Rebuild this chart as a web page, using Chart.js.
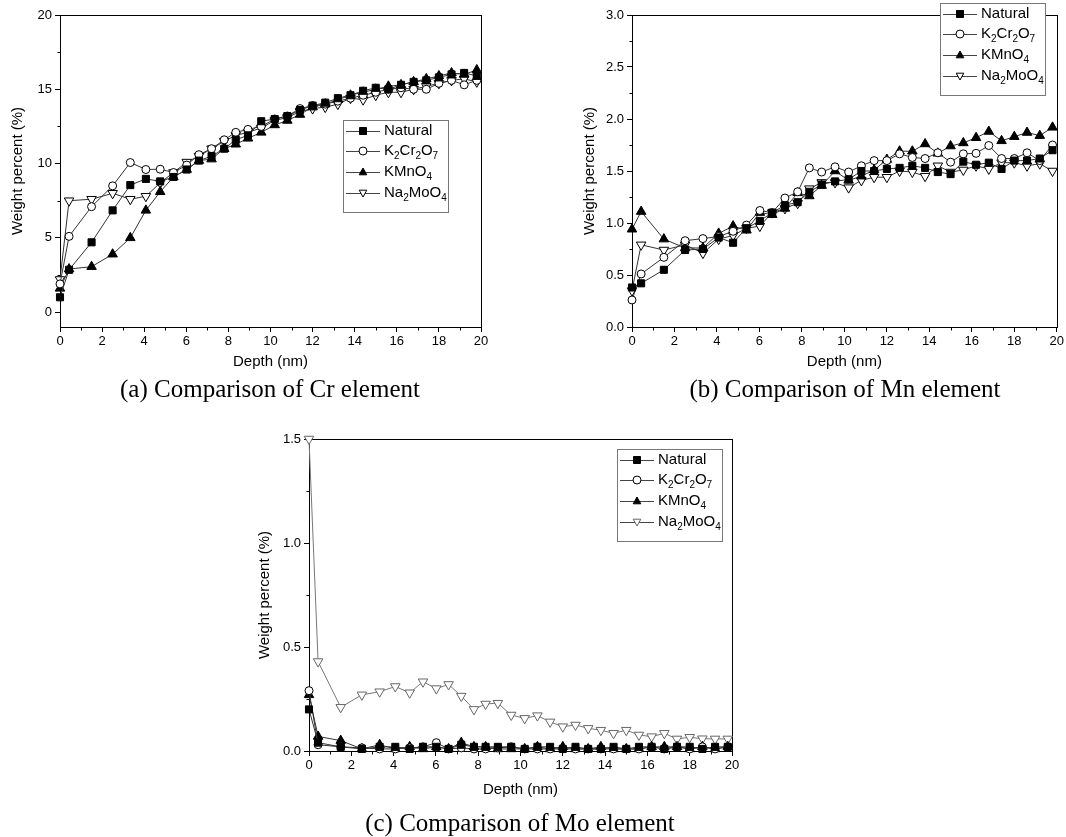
<!DOCTYPE html>
<html>
<head>
<meta charset="utf-8">
<script src="https://cdn.jsdelivr.net/npm/chart.js@4.4.1/dist/chart.umd.min.js"></script>
<style>
  body { margin: 0; background: #fff; }
  #page { position: relative; width: 1066px; height: 837px; background: #fff; overflow: hidden; }
  canvas { position: absolute; }
  .caption {
    position: absolute;
    font-family: "Liberation Serif", "Times New Roman", serif;
    font-size: 25px;
    line-height: 25px;
    color: #000;
    text-align: center;
    white-space: nowrap;
  }
</style>
</head>
<body>
<div id="page">
  <canvas id="chartCr" width="533" height="380" style="left:0px;top:0px"></canvas>
  <canvas id="chartMn" width="506" height="380" style="left:560px;top:0px"></canvas>
  <canvas id="chartMo" width="560" height="417" style="left:230px;top:420px"></canvas>
  <div class="caption" style="left:70px;top:376px;width:400px">(a) Comparison of Cr element</div>
  <div class="caption" style="left:645px;top:376px;width:400px">(b) Comparison of Mn element</div>
  <div class="caption" style="left:320px;top:810px;width:400px">(c) Comparison of Mo element</div>
</div>
<script>
// depth points (nm), shared by every series
const depth = [0, 0.43, 1.5, 2.5, 3.34, 4.08, 4.76, 5.39, 6.02, 6.6, 7.2, 7.8, 8.35, 8.93, 9.56,
  10.2, 10.8, 11.4, 12.0, 12.6, 13.2, 13.8, 14.4, 15.0, 15.6, 16.2, 16.8, 17.4, 18.0, 18.6, 19.2, 19.8];
const depthTicks = [0, 2, 4, 6, 8, 10, 12, 14, 16, 18, 20];
const seriesNames = ["Natural", "K_2Cr_2O_7", "KMnO_4", "Na_2MoO_4"];

// (a) Cr
const crTicks = [0, 5, 10, 15, 20];
const crNatural = [1.0, 2.85, 4.7, 6.85, 8.55, 8.97, 8.8, 9.1, 9.6, 10.2, 10.5, 11.0, 11.6, 11.9, 12.85,
  13.0, 13.2, 13.6, 13.9, 14.1, 14.4, 14.6, 14.9, 15.1, 15.0, 15.3, 15.5, 15.6, 15.8, 16.0, 16.1, 15.9];
const crK2Cr2O7 = [1.9, 5.1, 7.1, 8.5, 10.07, 9.6, 9.62, 9.4, 9.9, 10.6, 11.0, 11.6, 12.1, 12.3, 12.5,
  13.0, 13.2, 13.7, 13.9, 14.0, 14.2, 14.4, 14.6, 14.8, 15.0, 15.1, 15.0, 15.0, 15.4, 15.6, 15.3, 15.6];
const crKMnO4 = [1.6, 2.9, 3.06, 3.9, 5.0, 6.85, 8.1, 9.1, 9.6, 10.2, 10.3, 11.0, 11.3, 11.7, 12.1,
  12.6, 12.9, 13.3, 13.8, 14.0, 14.3, 14.6, 14.8, 15.0, 15.2, 15.3, 15.5, 15.7, 15.9, 16.1, 16.0, 16.3];
const crNa2MoO4 = [2.2, 7.5, 7.6, 8.0, 7.6, 7.8, 8.7, 9.4, 10.1, 10.5, 11.0, 11.5, 11.9, 12.1, 12.4,
  12.9, 13.1, 13.5, 13.7, 13.8, 14.0, 14.4, 14.3, 14.6, 14.8, 14.8, 15.0, 15.2, 15.4, 15.6, 15.7, 15.5];

// (b) Mn
const mnTicks = [0, 0.5, 1.0, 1.5, 2.0, 2.5, 3.0];
const mnNatural = [0.38, 0.42, 0.55, 0.74, 0.75, 0.86, 0.81, 0.95, 1.02, 1.10, 1.17, 1.20, 1.30, 1.37, 1.40,
  1.42, 1.50, 1.50, 1.52, 1.53, 1.55, 1.53, 1.49, 1.47, 1.59, 1.56, 1.58, 1.52, 1.60, 1.60, 1.62, 1.70];
const mnK2Cr2O7 = [0.26, 0.51, 0.67, 0.83, 0.85, 0.87, 0.92, 0.98, 1.12, 1.10, 1.24, 1.30, 1.53, 1.49, 1.54,
  1.49, 1.55, 1.60, 1.60, 1.665, 1.63, 1.62, 1.675, 1.585, 1.665, 1.67, 1.745, 1.62, 1.62, 1.675, 1.60, 1.75];
const mnKMnO4 = [0.94, 1.11, 0.845, 0.76, 0.76, 0.90, 0.97, 0.93, 1.10, 1.08, 1.14, 1.29, 1.26, 1.36, 1.50,
  1.41, 1.45, 1.51, 1.61, 1.69, 1.69, 1.76, 1.67, 1.74, 1.77, 1.82, 1.88, 1.79, 1.83, 1.87, 1.84, 1.92];
const mnNa2MoO4 = [0.35, 0.79, 0.74, 0.79, 0.71, 0.845, 0.88, 0.95, 0.97, 1.10, 1.14, 1.19, 1.33, 1.39, 1.39,
  1.34, 1.41, 1.44, 1.44, 1.50, 1.49, 1.45, 1.55, 1.49, 1.51, 1.55, 1.52, 1.58, 1.58, 1.55, 1.57, 1.50];

// (c) Mo
const moTicks = [0, 0.5, 1.0, 1.5];
const moNatural = [0.20, 0.04, 0.02, 0.01, 0.02, 0.02, 0.01, 0.02, 0.02, 0.01, 0.03, 0.02, 0.02, 0.02, 0.02,
  0.01, 0.02, 0.02, 0.01, 0.02, 0.01, 0.01, 0.02, 0.01, 0.02, 0.02, 0.01, 0.02, 0.02, 0.01, 0.02, 0.02];
const moK2Cr2O7 = [0.29, 0.03, 0.02, 0.015, 0.01, 0.01, 0.015, 0.02, 0.04, 0.01, 0.015, 0.01, 0.01, 0.015, 0.02,
  0.01, 0.01, 0.01, 0.01, 0.01, 0.01, 0.01, 0.01, 0.01, 0.01, 0.02, 0.01, 0.02, 0.01, 0.02, 0.01, 0.02];
const moKMnO4 = [0.27, 0.07, 0.05, 0.01, 0.03, 0.01, 0.02, 0.01, 0.02, 0.01, 0.04, 0.02, 0.02, 0.01, 0.01,
  0.01, 0.02, 0.01, 0.02, 0.01, 0.01, 0.02, 0.01, 0.01, 0.01, 0.02, 0.02, 0.02, 0.01, 0.02, 0.01, 0.02];
const moNa2MoO4 = [1.5, 0.43, 0.21, 0.27, 0.285, 0.31, 0.28, 0.333, 0.30, 0.32, 0.264, 0.20, 0.226, 0.23, 0.173,
  0.157, 0.17, 0.14, 0.117, 0.125, 0.109, 0.10, 0.085, 0.10, 0.077, 0.069, 0.085, 0.058, 0.066, 0.059, 0.058, 0.058];

const FONT = '"Liberation Sans", Arial, sans-serif';

// marker look for each series (same order as seriesNames)
const markerStyles = [
  { shape: "rect", radius: 5, fill: "#000", stroke: "#000", rotation: 0 },
  { shape: "circle", radius: 4, fill: "#fff", stroke: "#000", rotation: 0 },
  { shape: "triangle", radius: 5.5, fill: "#000", stroke: "#000", rotation: 0 },
  { shape: "triangle", radius: 5.5, fill: "#fff", stroke: "#000", rotation: 180 },
];

function drawMarker(ctx, shape, x, y, r, down) {
  ctx.beginPath();
  if (shape === "rect") {
    ctx.rect(x - r, y - r, 2 * r, 2 * r);
  } else if (shape === "circle") {
    ctx.arc(x, y, r, 0, Math.PI * 2);
  } else {
    const s = down ? -1 : 1;
    ctx.moveTo(x, y - s * r);
    ctx.lineTo(x + r * 0.95, y + s * r * 0.7);
    ctx.lineTo(x - r * 0.95, y + s * r * 0.7);
    ctx.closePath();
  }
  ctx.fill();
  ctx.stroke();
}

function drawLabel(ctx, label, x, y) {
  // "_" makes the next character a subscript
  let cx = x;
  for (let i = 0; i < label.length; i++) {
    if (label[i] === "_") {
      ctx.font = "10px " + FONT;
      ctx.fillText(label[i + 1], cx, y + 5);
      cx += ctx.measureText(label[i + 1]).width;
      i++;
    } else {
      ctx.font = "15px " + FONT;
      ctx.fillText(label[i], cx, y);
      cx += ctx.measureText(label[i]).width;
    }
  }
}

const framePlugin = {
  id: "frame",
  beforeDatasetsDraw(chart) {
    const { ctx, chartArea: a, scales } = chart;
    ctx.save();
    ctx.strokeStyle = "#000";
    ctx.lineWidth = 1;
    const l = Math.round(a.left) + 0.5, t = Math.round(a.top) + 0.5;
    const r = Math.round(a.right) + 0.5, b = Math.round(a.bottom) + 0.5;
    ctx.strokeRect(l, t, r - l, b - t);
    // minor ticks halfway between the major ones
    ctx.beginPath();
    const xt = scales.x.ticks.map((k) => k.value);
    for (let i = 0; i < xt.length - 1; i++) {
      const px = Math.round(scales.x.getPixelForValue((xt[i] + xt[i + 1]) / 2)) + 0.5;
      ctx.moveTo(px, b); ctx.lineTo(px, b + 3);
    }
    const yt = scales.y.ticks.map((k) => k.value);
    for (let i = 0; i < yt.length - 1; i++) {
      const py = Math.round(scales.y.getPixelForValue((yt[i] + yt[i + 1]) / 2)) + 0.5;
      ctx.moveTo(l, py); ctx.lineTo(l - 3, py);
    }
    ctx.stroke();
    ctx.restore();
  },
};

const boxLegendPlugin = {
  id: "boxLegend",
  afterDraw(chart, args, opts) {
    const { ctx } = chart;
    ctx.save();
    ctx.fillStyle = "#fff";
    ctx.fillRect(opts.x, opts.y, opts.w, opts.h);
    ctx.strokeStyle = "#777";
    ctx.lineWidth = 1;
    ctx.strokeRect(opts.x + 0.5, opts.y + 0.5, opts.w, opts.h);
    seriesNames.forEach((name, i) => {
      const ry = opts.y + opts.rows[i];
      const st = markerStyles[i];
      const col = opts.colors ? opts.colors[i] : "#000";
      ctx.strokeStyle = "#444";
      ctx.beginPath();
      ctx.moveTo(opts.x + 3, ry + 0.5);
      ctx.lineTo(opts.x + 37, ry + 0.5);
      ctx.stroke();
      ctx.strokeStyle = col;
      ctx.fillStyle = st.fill === "#000" ? col : "#fff";
      drawMarker(ctx, st.shape, opts.x + 20, ry, st.shape === "rect" ? 3.5 : 4, st.rotation === 180);
      ctx.fillStyle = "#000";
      ctx.textBaseline = "middle";
      drawLabel(ctx, name, opts.x + 41, ry);
    });
    ctx.restore();
  },
};

function makeSeries(values, i, lineColor, markerColor) {
  const st = markerStyles[i];
  return {
    label: seriesNames[i],
    data: depth.map((d, k) => ({ x: d, y: values[k] })),
    borderColor: lineColor,
    borderWidth: 1,
    pointStyle: st.shape,
    pointRadius: st.radius,
    pointRotation: st.rotation,
    pointBackgroundColor: st.fill === "#000" ? markerColor : "#fff",
    pointBorderColor: markerColor,
    pointBorderWidth: 1,
    tension: 0,
    clip: false,
  };
}

function makeChart(id, cfg) {
  new Chart(document.getElementById(id), {
    type: "line",
    data: { datasets: cfg.datasets },
    plugins: [framePlugin, boxLegendPlugin],
    options: {
      responsive: false,
      animation: false,
      layout: { padding: cfg.padding },
      plugins: {
        legend: { display: false },
        tooltip: { enabled: false },
        boxLegend: cfg.legend,
      },
      scales: {
        x: {
          type: "linear",
          min: 0,
          max: 20,
          afterBuildTicks: (s) => { s.ticks = depthTicks.map((v) => ({ value: v })); },
          afterFit: (s) => { s.height = cfg.xHeight; },
          grid: { drawOnChartArea: false, tickLength: 5, color: "#000" },
          border: { color: "#000" },
          ticks: { color: "#000", font: { family: FONT, size: 13 }, padding: 2, maxRotation: 0 },
          title: {
            display: true, text: "Depth (nm)", color: "#000",
            font: { family: FONT, size: 15 }, padding: { top: 0, bottom: cfg.xTitlePad },
          },
        },
        y: {
          type: "linear",
          min: cfg.yMin,
          max: cfg.yMax,
          afterBuildTicks: (s) => { s.ticks = cfg.yTicks.map((v) => ({ value: v })); },
          afterFit: (s) => { s.width = cfg.yWidth; },
          grid: { drawOnChartArea: false, tickLength: 5, color: "#000" },
          border: { color: "#000" },
          ticks: {
            color: "#000", font: { family: FONT, size: 13 }, padding: 3,
            callback: (v) => v.toFixed(cfg.decimals),
          },
          title: {
            display: true, text: "Weight percent (%)", color: "#000",
            font: { family: FONT, size: 15 }, padding: { top: cfg.yTitlePad, bottom: 0 },
          },
        },
      },
    },
  });
}

const rows = [11, 31, 52, 73];

makeChart("chartCr", {
  datasets: [
    makeSeries(crNatural, 0, "#333", "#000"),
    makeSeries(crK2Cr2O7, 1, "#333", "#000"),
    makeSeries(crKMnO4, 2, "#333", "#000"),
    makeSeries(crNa2MoO4, 3, "#333", "#000"),
  ],
  padding: { left: 0, top: 15, right: 52, bottom: 0 },
  xHeight: 53, xTitlePad: 9, yWidth: 60, yTitlePad: 9,
  yMin: -1, yMax: 20, yTicks: crTicks, decimals: 0,
  legend: { x: 343, y: 120, w: 105, h: 92, rows: rows },
});

makeChart("chartMn", {
  datasets: [
    makeSeries(mnNatural, 0, "#333", "#000"),
    makeSeries(mnK2Cr2O7, 1, "#333", "#000"),
    makeSeries(mnKMnO4, 2, "#333", "#000"),
    makeSeries(mnNa2MoO4, 3, "#333", "#000"),
  ],
  padding: { left: 0, top: 15, right: 9, bottom: 0 },
  xHeight: 53, xTitlePad: 9, yWidth: 72, yTitlePad: 21,
  yMin: 0, yMax: 3, yTicks: mnTicks, decimals: 1,
  legend: { x: 380, y: 3, w: 105, h: 92, rows: rows },
});

makeChart("chartMo", {
  datasets: [
    makeSeries(moNatural, 0, "#333", "#000"),
    makeSeries(moK2Cr2O7, 1, "#333", "#000"),
    makeSeries(moKMnO4, 2, "#333", "#000"),
    makeSeries(moNa2MoO4, 3, "#777", "#666"),
  ],
  padding: { left: 0, top: 19, right: 58, bottom: 0 },
  xHeight: 86, xTitlePad: 38, yWidth: 79, yTitlePad: 26,
  yMin: 0, yMax: 1.5, yTicks: moTicks, decimals: 1,
  legend: { x: 387, y: 29, w: 105, h: 92, rows: rows, colors: ["#000", "#000", "#000", "#666"] },
});
</script>
</body>
</html>
